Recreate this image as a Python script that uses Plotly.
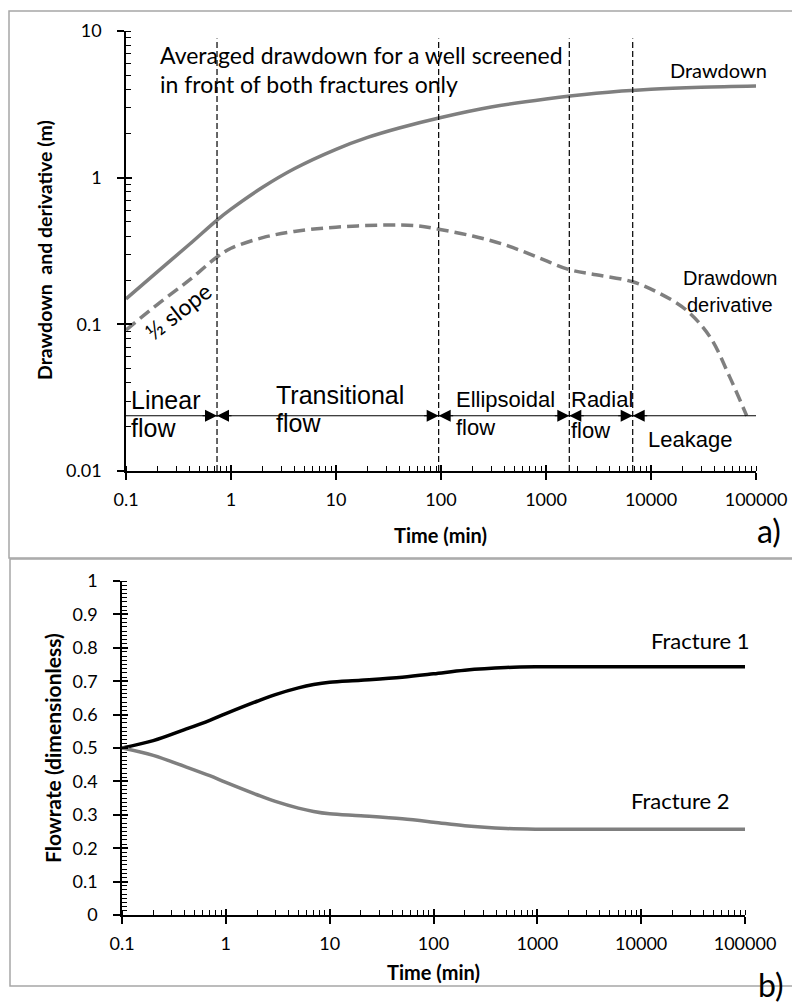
import numpy as np
import plotly.graph_objects as go

# ---------------- data ----------------
# panel a) drawdown and derivative vs time (min)
t_dd = [0.1, 0.2, 0.4, 0.736, 1, 2, 4, 10, 20, 40, 100, 300, 1000, 3000, 10000, 30000, 100000]
drawdown = [0.149, 0.229, 0.35, 0.514, 0.61, 0.86, 1.15, 1.56, 1.88, 2.18, 2.57, 3.03, 3.44, 3.76, 4.0, 4.13, 4.21]

t_der = [0.1, 0.2, 0.4, 0.736, 1, 2, 4, 10, 30, 60, 95, 200, 400, 800, 1667, 3000, 6695, 12000, 21700, 36500, 56000, 81500]
derivative = [0.0914, 0.137, 0.2, 0.288, 0.33, 0.39, 0.43, 0.46, 0.475, 0.47, 0.445, 0.40, 0.35, 0.29, 0.236, 0.218, 0.195, 0.163, 0.125, 0.082, 0.044, 0.0238]

# flow regime boundaries (min)
boundaries = [0.736, 95, 1667, 6695]
regime_y = 0.0238
regime_x_end = 100000

# panel b) flowrate of each fracture
t_fr = [0.1, 0.2, 0.4, 0.7, 1, 2, 3, 5, 7, 10, 20, 50, 100, 200, 500, 1000, 10000, 100000]
fracture1 = [0.5, 0.522, 0.555, 0.583, 0.603, 0.64, 0.66, 0.68, 0.69, 0.697, 0.703, 0.712, 0.722, 0.733, 0.741, 0.743, 0.743, 0.743]
fracture2 = [0.5, 0.478, 0.445, 0.417, 0.397, 0.36, 0.34, 0.32, 0.31, 0.303, 0.297, 0.288, 0.278, 0.267, 0.259, 0.257, 0.257, 0.257]

x_tickvals = [0.1, 1, 10, 100, 1000, 10000, 100000]
x_ticktext = ["0.1", "1", "10", "100", "1000", "10000", "100000"]
ya_tickvals = [0.01, 0.1, 1, 10]
ya_ticktext = ["0.01", "0.1", "1", "10"]
yb_tickvals = [0, 0.1, 0.2, 0.3, 0.4, 0.5, 0.6, 0.7, 0.8, 0.9, 1]
yb_ticktext = ["0", "0.1", "0.2", "0.3", "0.4", "0.5", "0.6", "0.7", "0.8", "0.9", "1"]

# ---------------- figure ----------------
W, H = 792, 1005
def px(x):
    return x / W
def py(y):
    return 1 - y / H

GRAY = "#7f7f7f"
CAL = "Lato"
ARIAL = "Liberation Sans"

fig = go.Figure()

# panel a curves
fig.add_trace(go.Scatter(x=t_dd, y=drawdown, mode="lines", line=dict(color=GRAY, width=3.5, shape="spline"),
                         xaxis="x", yaxis="y", showlegend=False))
fig.add_trace(go.Scatter(x=t_der, y=derivative, mode="lines",
                         line=dict(color=GRAY, width=3.5, dash="12px,6px", shape="spline"),
                         xaxis="x", yaxis="y", showlegend=False))
# vertical boundary lines (on overlay axes with identical scale)
for b in boundaries:
    fig.add_trace(go.Scatter(x=[b, b], y=[0.01, 8.9], mode="lines",
                             line=dict(color="black", width=1.2, dash="6px,3px"),
                             xaxis="x3", yaxis="y3", showlegend=False))
# horizontal regime line
fig.add_trace(go.Scatter(x=[x_tickvals[0], regime_x_end], y=[regime_y, regime_y], mode="lines",
                         line=dict(color="black", width=1.2), xaxis="x", yaxis="y", showlegend=False))

# panel b curves
fig.add_trace(go.Scatter(x=t_fr, y=fracture1, mode="lines", line=dict(color="black", width=3.5, shape="spline"),
                         xaxis="x2", yaxis="y2", showlegend=False))
fig.add_trace(go.Scatter(x=t_fr, y=fracture2, mode="lines", line=dict(color=GRAY, width=3.5, shape="spline"),
                         xaxis="x4", yaxis="y4", showlegend=False))

tickfont = dict(family=CAL, size=18, color="black")
dom_xa = [px(126), px(756)]
dom_ya = [py(471), py(31)]
dom_xb = [px(122), px(745)]
dom_yb = [py(915), py(581)]

common = dict(showgrid=False, zeroline=False, showline=True, linecolor="black", linewidth=1.5, automargin=False,
              ticks="outside", ticklen=7, tickwidth=1.5, tickcolor="black", tickfont=tickfont)
overlay = dict(showticklabels=False, showgrid=False, zeroline=False, showline=False, automargin=False,
               ticks="inside", ticklen=6, tickwidth=1.5, tickcolor="black")
minor_log = dict(ticks="inside", ticklen=5, tickwidth=1.2, tickcolor="black", dtick="D1", showgrid=False)

fig.update_layout(
    width=W, height=H, margin=dict(l=0, r=0, t=0, b=0, autoexpand=False),
    paper_bgcolor="white", plot_bgcolor="rgba(0,0,0,0)",
    xaxis=dict(type="log", range=[-1, 5], domain=dom_xa, anchor="y", tickvals=x_tickvals, ticktext=x_ticktext,
               minor=minor_log, ticklabelstandoff=5, **common),
    yaxis=dict(type="log", range=[-2, 1], domain=dom_ya, anchor="x", tickvals=ya_tickvals, ticktext=ya_ticktext,
               minor=minor_log, ticklabelstandoff=12, **common),
    xaxis3=dict(type="log", range=[-1, 5], domain=dom_xa, overlaying="x", anchor="y3", tickvals=x_tickvals, **overlay),
    yaxis3=dict(type="log", range=[-2, 1], domain=dom_ya, overlaying="y", anchor="x3", tickvals=ya_tickvals, **overlay),
    xaxis2=dict(type="log", range=[-1, 5], domain=dom_xb, anchor="y2", tickvals=x_tickvals, ticktext=x_ticktext,
                minor=minor_log, ticklabelstandoff=5, **common),
    yaxis2=dict(range=[0, 1], domain=dom_yb, anchor="x2", tickvals=yb_tickvals, ticktext=yb_ticktext,
                minor=dict(ticks="inside", ticklen=5, tickwidth=1.2, tickcolor="black", dtick=0.0125, showgrid=False),
                ticklabelstandoff=12, **common),
    xaxis4=dict(type="log", range=[-1, 5], domain=dom_xb, overlaying="x2", anchor="y4", tickvals=x_tickvals, **overlay),
    yaxis4=dict(range=[0, 1], domain=dom_yb, overlaying="y2", anchor="x4", tickvals=yb_tickvals, **overlay),
)

# panel borders
fig.add_shape(type="rect", xref="paper", yref="paper", x0=px(9), x1=px(800), y0=py(558), y1=py(11),
              line=dict(color="#a6a6a6", width=1.5), fillcolor="rgba(0,0,0,0)", layer="below")
fig.add_shape(type="rect", xref="paper", yref="paper", x0=px(10), x1=px(800), y0=py(986), y1=py(559),
              line=dict(color="#a6a6a6", width=1.5), fillcolor="rgba(0,0,0,0)", layer="below")

ann = []
def text(x, y, s, size, family=CAL, xanchor="center", yanchor="middle", angle=0, bold=False):
    if bold:
        s = "<b>" + s + "</b>"
    ann.append(dict(x=px(x), y=py(y), xref="paper", yref="paper", text=s, showarrow=False,
                    font=dict(family=family, size=size, color="black"), xanchor=xanchor, yanchor=yanchor,
                    textangle=angle, borderpad=0))

# axis titles
text(441, 535, "Time (min)", 20, bold=True)
text(45, 250, "Drawdown  and derivative (m)", 19.5, angle=-90, bold=True)
text(433, 972, "Time (min)", 20, bold=True)
text(52, 748, "Flowrate (dimensionless)", 21, angle=-90, bold=True)

# panel a texts
text(159, 55, "Averaged drawdown for a well screened", 23, xanchor="left")
text(159, 84, "in front of both fractures only", 23, xanchor="left")
text(718, 70, "Drawdown", 20)
text(730, 278, "Drawdown", 20, family=ARIAL)
text(730, 305, "derivative", 20, family=ARIAL)
text(178, 311, "½ slope", 23, angle=-38)
text(130, 400, "Linear", 25, family=ARIAL, xanchor="left")
text(130, 428, "flow", 25, family=ARIAL, xanchor="left")
text(275, 395, "Transitional", 25, family=ARIAL, xanchor="left")
text(275, 423, "flow", 25, family=ARIAL, xanchor="left")
text(455, 400, "Ellipsoidal", 22, family=ARIAL, xanchor="left")
text(455, 427, "flow", 22, family=ARIAL, xanchor="left")
text(570, 400, "Radial", 22, family=ARIAL, xanchor="left")
text(570, 430, "flow", 22, family=ARIAL, xanchor="left")
text(647, 439, "Leakage", 22, family=ARIAL, xanchor="left")
text(769, 530, "a)", 32)

# panel b texts
text(700, 640, "Fracture 1", 22)
text(680, 800, "Fracture 2", 22)
text(771, 984, "b)", 32)

# arrowheads at regime boundaries
for b in boundaries:
    for side in (-1, 1):
        ann.append(dict(x=np.log10(b), y=np.log10(regime_y), xref="x", yref="y", ax=side * 16, ay=0,
                        axref="pixel", ayref="pixel", showarrow=True, arrowhead=2, arrowsize=2.0,
                        arrowwidth=1.2, arrowcolor="black", text="", standoff=0))

fig.update_layout(annotations=ann)
fig.write_html("out.html")
